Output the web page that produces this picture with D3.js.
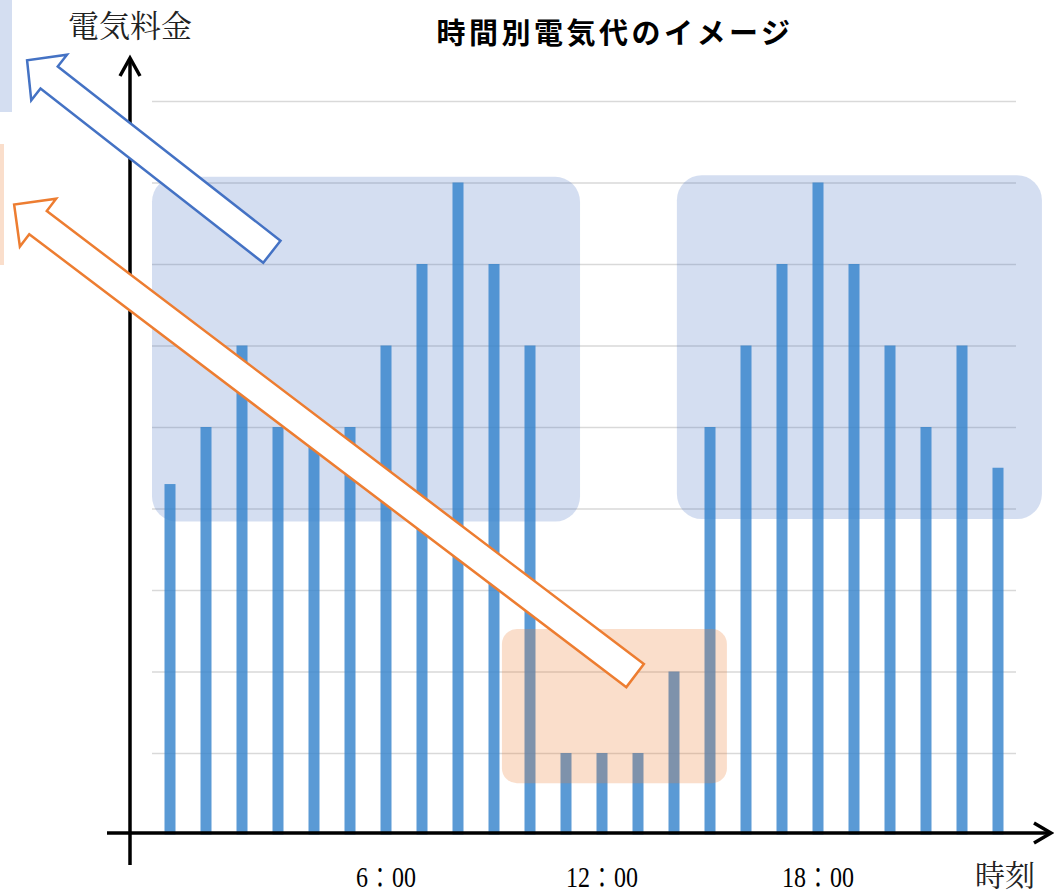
<!DOCTYPE html>
<html>
<head>
<meta charset="utf-8">
<script src="https://cdn.jsdelivr.net/npm/d3@7"></script>
<style>
  body { margin: 0; background: #fff; }
  svg { display: block; }
</style>
</head>
<body>
<div id="chart"></div>
<script>
// hours of the day, one bar each
const hours = [0, 1, 2, 3, 4, 5, 6, 7, 8, 9, 10, 11, 12, 13, 14, 15, 16, 17, 18, 19, 20, 21, 22, 23];
// electricity price (relative units)
const prices = [4.3, 5, 6, 5, 5, 5, 6, 7, 8, 7, 6, 1, 1, 1, 2, 5, 6, 7, 8, 7, 6, 5, 6, 4.5];

const tickHours = [6, 12, 18];
const tickLabels = ["6：00", "12：00", "18：00"];
const gridValues = [1, 2, 3, 4, 5, 6, 7, 8, 9];

// highlight regions [hourFrom, hourTo, valueTop, valueBottom]
const peakBoxes = [[-0.5, 11.39, 8.07, 3.84], [14.08, 24.22, 8.09, 3.87]];
const cheapBox = [9.22, 15.47, 2.52, 0.63];

// arrows [tailHour, tailValue, tipHour, tipValue]
const blueArrow = [2.83, 7.15, -3.97, 9.50];
const orangeArrow = [12.92, 1.95, -4.33, 7.73];

const W = 1054, H = 896;
const plot = { left: 152, right: 1016, top: 101, bottom: 834.5 };

const svg = d3.select("#chart").append("svg")
  .attr("width", W)
  .attr("height", H);

const x = d3.scaleBand()
  .domain(hours)
  .range([plot.left, plot.right])
  .paddingInner(25 / 36)
  .paddingOuter(25 / 72);

const y = d3.scaleLinear()
  .domain([0, 9])
  .range([plot.bottom, plot.top]);

// linear helper for annotations placed by hour
const xh = d3.scaleLinear()
  .domain([0, 23])
  .range([x(0) + x.bandwidth() / 2, x(23) + x.bandwidth() / 2]);

// cut-off shapes at the left edge
svg.append("rect").attr("x", 0).attr("y", 0).attr("width", 12).attr("height", 112)
  .attr("fill", "#4472c4").attr("fill-opacity", 0.23);
svg.append("rect").attr("x", 0).attr("y", 144).attr("width", 4).attr("height", 121)
  .attr("fill", "#ed7d31").attr("fill-opacity", 0.25);

// gridlines
const grid = svg.append("g")
  .attr("transform", `translate(${plot.left},0)`)
  .call(d3.axisLeft(y).tickValues(gridValues).tickSize(-(plot.right - plot.left)).tickFormat(""));
grid.select(".domain").remove();
grid.selectAll("line").attr("stroke", "#d9d9d9").attr("stroke-width", 1.5);

// peak time boxes (behind bars)
svg.selectAll("peakBoxes")
  .data(peakBoxes)
  .enter()
  .append("rect")
  .attr("x", d => xh(d[0]))
  .attr("y", d => y(d[2]))
  .attr("width", d => xh(d[1]) - xh(d[0]))
  .attr("height", d => y(d[3]) - y(d[2]))
  .attr("rx", 25)
  .attr("fill", "#4472c4")
  .attr("fill-opacity", 0.23);

// bars
svg.selectAll("bars")
  .data(hours)
  .enter()
  .append("rect")
  .attr("x", d => x(d))
  .attr("y", (d, i) => y(prices[i]))
  .attr("width", x.bandwidth())
  .attr("height", (d, i) => y(0) - y(prices[i]))
  .attr("fill", "rgb(52,131,203)")
  .attr("fill-opacity", 0.81);

// cheap time box (over bars)
svg.append("rect")
  .attr("x", xh(cheapBox[0]))
  .attr("y", y(cheapBox[2]))
  .attr("width", xh(cheapBox[1]) - xh(cheapBox[0]))
  .attr("height", y(cheapBox[3]) - y(cheapBox[2]))
  .attr("rx", 15)
  .attr("fill", "#ed7d31")
  .attr("fill-opacity", 0.25);

// axes with open arrow heads
const axisX = 130, axisY = 833;
svg.append("line").attr("x1", axisX).attr("x2", axisX).attr("y1", 865).attr("y2", 58)
  .attr("stroke", "#000").attr("stroke-width", 3.5);
svg.append("path").attr("d", `M${axisX - 10},76L${axisX},58L${axisX + 10},76`)
  .attr("fill", "none").attr("stroke", "#000").attr("stroke-width", 3.5);
svg.append("line").attr("x1", 107).attr("x2", 1050).attr("y1", axisY).attr("y2", axisY)
  .attr("stroke", "#000").attr("stroke-width", 3.5);
svg.append("path").attr("d", `M1034,${axisY - 10}L1051,${axisY}L1034,${axisY + 10}`)
  .attr("fill", "none").attr("stroke", "#000").attr("stroke-width", 3.5);

// x tick labels (narrow, tall digits)
const xAxis = svg.append("g")
  .attr("transform", `translate(0,${plot.bottom})`)
  .call(d3.axisBottom(x).tickValues(tickHours).tickSize(0)
    .tickFormat(d => tickLabels[tickHours.indexOf(d)]));
xAxis.select(".domain").remove();
xAxis.selectAll("text")
  .attr("y", 53)
  .attr("dy", 0)
  .attr("fill", "#000")
  .attr("transform", "scale(0.8,1)")
  .style("font-family", "'Liberation Serif', 'Noto Serif CJK JP', 'Noto Sans CJK JP', serif")
  .style("font-size", "30px");

// block arrows
function arrowPath(a, shaft, head, headLen) {
  const tx = xh(a[0]), ty = y(a[1]), px = xh(a[2]), py = y(a[3]);
  const len = Math.hypot(px - tx, py - ty);
  const ux = (px - tx) / len, uy = (py - ty) / len;
  const nx = -uy, ny = ux;
  const bx = px - ux * headLen, by = py - uy * headLen;
  const pts = [
    [tx + nx * shaft, ty + ny * shaft],
    [bx + nx * shaft, by + ny * shaft],
    [bx + nx * head, by + ny * head],
    [px, py],
    [bx - nx * head, by - ny * head],
    [bx - nx * shaft, by - ny * shaft],
    [tx - nx * shaft, ty - ny * shaft]
  ];
  return "M" + pts.map(p => p.join(",")).join("L") + "Z";
}

svg.append("path")
  .attr("d", arrowPath(orangeArrow, 14.5, 30, 30))
  .attr("fill", "#fff")
  .attr("stroke", "#ed7d31")
  .attr("stroke-width", 2.5)
  .attr("stroke-linejoin", "miter");

svg.append("path")
  .attr("d", arrowPath(blueArrow, 14, 29, 28))
  .attr("fill", "#fff")
  .attr("stroke", "#4472c4")
  .attr("stroke-width", 2.5)
  .attr("stroke-linejoin", "miter");

// titles and axis names
svg.append("text")
  .attr("x", 615)
  .attr("y", 44)
  .attr("text-anchor", "middle")
  .style("font-family", "'Noto Sans CJK JP', sans-serif")
  .style("font-weight", "bold")
  .style("font-size", "29px")
  .style("letter-spacing", "3.5px")
  .text("時間別電気代のイメージ");

svg.append("text")
  .attr("x", 68)
  .attr("y", 37)
  .style("font-family", "'Noto Serif CJK JP', 'Noto Sans CJK JP', serif")
  .style("font-size", "31px")
  .attr("fill", "#222")
  .text("電気料金");

svg.append("text")
  .attr("x", 975)
  .attr("y", 886)
  .style("font-family", "'Noto Serif CJK JP', 'Noto Sans CJK JP', serif")
  .style("font-size", "30px")
  .attr("fill", "#222")
  .text("時刻");
</script>
</body>
</html>
